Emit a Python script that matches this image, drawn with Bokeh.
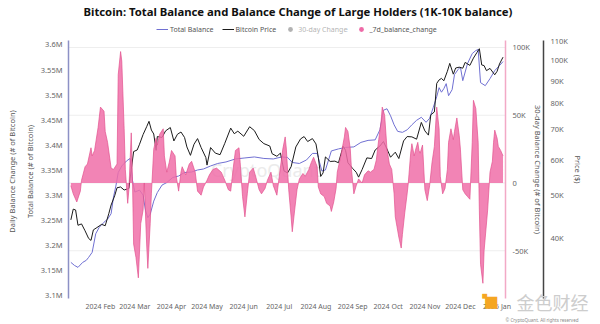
import pandas as pd
from bokeh.plotting import figure
from bokeh.models import (Range1d, LinearAxis, LogAxis, LogScale, FixedTicker, Legend, LegendItem,
                          Label, MonthsTicker, DatetimeTickFormatter, ColumnDataSource)
from bokeh.embed import file_html
from bokeh.resources import INLINE

# ---------------- data ----------------
bal_dates = ["2024-01-07", "2024-01-10", "2024-01-13", "2024-01-17", "2024-01-20", "2024-01-22", "2024-01-25",
             "2024-01-28", "2024-01-31", "2024-02-04", "2024-02-07", "2024-02-10", "2024-02-12", "2024-02-14",
             "2024-02-16", "2024-02-19", "2024-02-23", "2024-02-26", "2024-02-28", "2024-03-01", "2024-03-05",
             "2024-03-08", "2024-03-10", "2024-03-12", "2024-03-14", "2024-03-17", "2024-03-20", "2024-03-24",
             "2024-03-28", "2024-04-02", "2024-04-07", "2024-04-12", "2024-04-18", "2024-04-23", "2024-04-28",
             "2024-05-04", "2024-05-10", "2024-05-17", "2024-05-25", "2024-06-02", "2024-06-10", "2024-06-18",
             "2024-06-26", "2024-07-03", "2024-07-08", "2024-07-12", "2024-07-18", "2024-07-24", "2024-07-29",
             "2024-08-02", "2024-08-06", "2024-08-09", "2024-08-14", "2024-08-20", "2024-08-26", "2024-09-02",
             "2024-09-08", "2024-09-14", "2024-09-20", "2024-09-24", "2024-09-27", "2024-09-30", "2024-10-03",
             "2024-10-06", "2024-10-09", "2024-10-13", "2024-10-17", "2024-10-21", "2024-10-25", "2024-10-29",
             "2024-11-02", "2024-11-05", "2024-11-08", "2024-11-11", "2024-11-13", "2024-11-15", "2024-11-17",
             "2024-11-19", "2024-11-21", "2024-11-24", "2024-11-26", "2024-11-29", "2024-12-01", "2024-12-03",
             "2024-12-07", "2024-12-11", "2024-12-14", "2024-12-16", "2024-12-18", "2024-12-22", "2024-12-26",
             "2024-12-30", "2025-01-03", "2025-01-06"]
bal_values = [3166000, 3160000, 3156000, 3166000, 3170000, 3176000, 3186000,
              3223000, 3236000, 3246000, 3252000, 3263000, 3296000, 3318000,
              3345000, 3358000, 3368000, 3373000, 3330000, 3306000, 3310000,
              3300000, 3270000, 3255000, 3262000, 3288000, 3305000, 3320000,
              3325000, 3335000, 3338000, 3345000, 3346000, 3350000, 3352000,
              3358000, 3363000, 3366000, 3372000, 3374000, 3376000, 3373000,
              3372000, 3376000, 3375000, 3365000, 3363000, 3370000, 3383000,
              3383000, 3348000, 3350000, 3388000, 3392000, 3395000, 3396000,
              3405000, 3409000, 3410000, 3430000, 3469000, 3472000, 3458000,
              3440000, 3427000, 3425000, 3430000, 3440000, 3449000, 3455000,
              3445000, 3453000, 3474000, 3496000, 3514000, 3505000, 3512000,
              3522000, 3498000, 3510000, 3540000, 3550000, 3555000, 3528000,
              3562000, 3582000, 3588000, 3590000, 3524000, 3518000, 3532000,
              3548000, 3558000, 3566000]

price_dates = ["2024-01-07", "2024-01-09", "2024-01-11", "2024-01-13", "2024-01-16", "2024-01-19", "2024-01-22",
               "2024-01-24", "2024-01-26", "2024-01-29", "2024-02-02", "2024-02-05", "2024-02-08", "2024-02-10",
               "2024-02-13", "2024-02-15", "2024-02-18", "2024-02-21", "2024-02-25", "2024-02-27", "2024-02-29",
               "2024-03-03", "2024-03-05", "2024-03-08", "2024-03-11", "2024-03-13", "2024-03-15", "2024-03-17",
               "2024-03-19", "2024-03-20", "2024-03-24", "2024-03-27", "2024-03-31", "2024-04-03", "2024-04-06",
               "2024-04-09", "2024-04-12", "2024-04-14", "2024-04-17", "2024-04-20", "2024-04-23", "2024-04-26",
               "2024-04-30", "2024-05-01", "2024-05-04", "2024-05-08", "2024-05-12", "2024-05-16", "2024-05-21",
               "2024-05-24", "2024-05-27", "2024-06-01", "2024-06-06", "2024-06-10", "2024-06-14", "2024-06-18",
               "2024-06-23", "2024-06-25", "2024-06-29", "2024-07-02", "2024-07-05", "2024-07-08", "2024-07-11",
               "2024-07-15", "2024-07-19", "2024-07-22", "2024-07-25", "2024-07-29", "2024-08-01", "2024-08-03",
               "2024-08-05", "2024-08-07", "2024-08-09", "2024-08-13", "2024-08-17", "2024-08-20", "2024-08-24",
               "2024-08-26", "2024-08-28", "2024-09-01", "2024-09-04", "2024-09-06", "2024-09-09", "2024-09-13",
               "2024-09-17", "2024-09-20", "2024-09-24", "2024-09-27", "2024-09-30", "2024-10-03", "2024-10-07",
               "2024-10-10", "2024-10-14", "2024-10-17", "2024-10-21", "2024-10-25", "2024-10-29", "2024-11-01",
               "2024-11-04", "2024-11-06", "2024-11-09", "2024-11-11", "2024-11-13", "2024-11-15", "2024-11-17",
               "2024-11-20", "2024-11-22", "2024-11-25", "2024-11-27", "2024-11-30", "2024-12-03", "2024-12-05",
               "2024-12-09", "2024-12-12", "2024-12-15", "2024-12-17", "2024-12-19", "2024-12-21", "2024-12-23",
               "2024-12-26", "2024-12-30", "2025-01-01", "2025-01-03", "2025-01-06"]
price_values = [44000, 46500, 46300, 42800, 43100, 41600, 40000,
                39600, 41800, 42300, 43000, 42700, 45400, 47500,
                49800, 51900, 52100, 51300, 51700, 57000, 62500,
                63000, 64900, 68200, 71000, 73000, 69800, 68400,
                62900, 67500, 67200, 69500, 70700, 66000, 68300,
                69100, 67200, 64000, 61300, 64900, 66800, 63800,
                60600, 58300, 63800, 62000, 61500, 65200, 70500,
                68500, 69400, 67600, 71000, 69600, 66500, 65100,
                64300, 61800, 61000, 62000, 56600, 56000, 57800,
                64000, 66700, 67500, 65800, 66800, 65000, 60700,
                55000, 56000, 60800, 59400, 59500, 59000, 64200,
                62900, 59000, 57300, 56200, 54800, 57000, 60500,
                60300, 63000, 64300, 65800, 63300, 60700, 62300,
                60300, 66000, 67500, 67400, 66600, 72600, 69500,
                68000, 75500, 76600, 88700, 90300, 91000, 89900,
                94400, 98300, 93000, 96000, 96400, 95900, 98800,
                97300, 101000, 104000, 106000, 97500, 97200, 94700,
                95800, 92700, 94400, 98000, 101500]

chg7_dates = ["2024-01-07", "2024-01-09", "2024-01-12", "2024-01-15", "2024-01-16", "2024-01-19", "2024-01-21",
              "2024-01-24", "2024-01-25", "2024-01-27", "2024-01-30", "2024-02-01", "2024-02-04", "2024-02-05",
              "2024-02-07", "2024-02-10", "2024-02-12", "2024-02-15", "2024-02-16", "2024-02-18", "2024-02-19",
              "2024-02-21", "2024-02-22", "2024-02-24", "2024-02-25", "2024-02-27", "2024-02-28", "2024-02-29",
              "2024-03-02", "2024-03-04", "2024-03-06", "2024-03-08", "2024-03-09", "2024-03-11", "2024-03-12",
              "2024-03-14", "2024-03-15", "2024-03-17", "2024-03-19", "2024-03-20", "2024-03-22", "2024-03-25",
              "2024-03-26", "2024-03-28", "2024-03-30", "2024-04-01", "2024-04-04", "2024-04-05", "2024-04-07",
              "2024-04-09", "2024-04-10", "2024-04-13", "2024-04-16", "2024-04-18", "2024-04-21", "2024-04-23",
              "2024-04-26", "2024-04-28", "2024-05-01", "2024-05-03", "2024-05-06", "2024-05-09", "2024-05-13",
              "2024-05-16", "2024-05-19", "2024-05-21", "2024-05-23", "2024-05-25", "2024-05-28", "2024-05-29",
              "2024-05-31", "2024-06-02", "2024-06-04", "2024-06-06", "2024-06-09", "2024-06-11", "2024-06-14",
              "2024-06-16", "2024-06-19", "2024-06-21", "2024-06-24", "2024-06-26", "2024-06-29", "2024-07-01",
              "2024-07-04", "2024-07-06", "2024-07-07", "2024-07-09", "2024-07-11", "2024-07-12", "2024-07-14",
              "2024-07-16", "2024-07-18", "2024-07-21", "2024-07-23", "2024-07-26", "2024-07-28", "2024-07-30",
              "2024-08-02", "2024-08-03", "2024-08-05", "2024-08-08", "2024-08-10", "2024-08-13", "2024-08-14",
              "2024-08-16", "2024-08-18", "2024-08-19", "2024-08-22", "2024-08-25", "2024-08-26", "2024-08-28",
              "2024-08-30", "2024-08-31", "2024-09-02", "2024-09-04", "2024-09-06", "2024-09-09", "2024-09-11",
              "2024-09-14", "2024-09-16", "2024-09-19", "2024-09-21", "2024-09-23", "2024-09-25", "2024-09-26",
              "2024-09-28", "2024-09-30", "2024-10-02", "2024-10-04", "2024-10-06", "2024-10-07", "2024-10-10",
              "2024-10-12", "2024-10-13", "2024-10-15", "2024-10-17", "2024-10-18", "2024-10-20", "2024-10-21",
              "2024-10-23", "2024-10-24", "2024-10-26", "2024-10-27", "2024-10-28", "2024-10-30", "2024-11-01",
              "2024-11-03", "2024-11-05", "2024-11-07", "2024-11-09", "2024-11-11", "2024-11-13", "2024-11-14",
              "2024-11-16", "2024-11-18", "2024-11-20", "2024-11-21", "2024-11-23", "2024-11-25", "2024-11-26",
              "2024-11-28", "2024-11-30", "2024-12-01", "2024-12-03", "2024-12-05", "2024-12-07", "2024-12-09",
              "2024-12-11", "2024-12-12", "2024-12-14", "2024-12-16", "2024-12-17", "2024-12-18", "2024-12-20",
              "2024-12-21", "2024-12-22", "2024-12-24", "2024-12-26", "2024-12-28", "2024-12-29", "2024-12-30",
              "2025-01-01", "2025-01-02", "2025-01-04", "2025-01-06"]
chg7_values = [-2000, -8000, -14000, -6000, 2000, 12000, 14000,
               26000, 20000, 24000, 41000, 56000, 53000, 38000,
               30000, 11000, 10000, 14000, 80000, 97000, 90000,
               40000, 10000, -15000, -5000, 37000, 5000, -45000,
               -55000, -70000, -30000, -20000, 0, -45000, -63000,
               -30000, -8000, 25000, 33000, 28000, 36000, 40000,
               20000, 8000, 15000, 24000, 20000, 5000, -6000,
               8000, 12000, 6000, 14000, 16000, 8000, -6000,
               -9000, -3000, 2000, 6000, 10000, 11000, 8000,
               2000, -5000, -6000, 10000, 24000, 26000, 15000,
               -10000, -25000, -8000, 8000, 11000, 5000, -5000,
               -8000, -4000, 2000, 8000, -2000, -9000, 5000,
               25000, 34000, 25000, -5000, -25000, -36000, -20000,
               -5000, 3000, 7000, 5000, 10000, 15000, 19000,
               12000, -3000, -8000, -10000, -15000, -17000, -21000,
               -14000, -4000, 8000, 20000, 34000, 41000, 38000,
               25000, 10000, -8000, -2000, 3000, 0, 6000,
               9000, 8000, 10000, 17000, 32000, 45000, 56000,
               50000, 25000, 14000, 10000, -8000, -25000, -40000,
               -48000, -38000, -22000, -8000, 0, 22000, 29000,
               20000, 24000, 30000, 24000, 22000, 28000, -5000,
               -13000, -2000, 15000, 27000, 56000, 40000, 5000,
               -8000, -4000, 10000, 30000, 40000, 32000, 38000,
               48000, 35000, 25000, -5000, -8000, -10000, -12000,
               30000, 61000, 55000, 30000, -20000, -60000, -74000,
               -50000, -40000, -20000, 8000, 16000, 30000, 39000,
               33000, 27000, 24000, 20000]

left_ticks = [3100000, 3150000, 3200000, 3250000, 3300000, 3350000, 3400000, 3450000, 3500000, 3550000, 3600000]
left_labels = ["3.1M", "3.15M", "3.2M", "3.25M", "3.3M", "3.35M", "3.4M", "3.45M", "3.5M", "3.55M", "3.6M"]
chg_ticks = [-50000, 0, 50000, 100000]
chg_labels = ["-50K", "0", "50K", "100K"]
price_ticks = [40000, 50000, 60000, 70000, 80000, 90000, 100000, 110000]
price_labels = ["40K", "50K", "60K", "70K", "80K", "90K", "100K", "110K"]

# ---------------- layout positions ----------------
def ms(ts):
    return pd.Timestamp(ts).value / 1e6

X_START = "2024-01-05"
X_END = "2025-03-29 07:40"          # frame runs to the right edge of the canvas
PLOT_END = "2025-01-08"             # end of the plotted period
CHG_AXIS_AT = "2025-01-08 02:10"    # x position of the 30-day change axis
PRICE_AXIS_AT = "2025-02-09 04:20"  # x position of the price axis

FONT = "Noto Sans"
TICK_COLOR = "#666666"

p = figure(width=600, height=324, x_axis_type="datetime", output_backend="svg", toolbar_location=None,
           x_range=Range1d(pd.Timestamp(X_START), pd.Timestamp(X_END)),
           y_range=Range1d(3042230, 3651790),
           min_border_left=68, min_border_right=0, min_border_top=18, min_border_bottom=0)
p.extra_y_ranges = {"chg": Range1d(-104430, 121400), "price": Range1d(25710, 123790)}
p.extra_y_scales = {"price": LogScale()}
p.outline_line_color = None
p.xgrid.visible = False
p.ygrid.visible = False

p.title.text = "Bitcoin: Total Balance and Balance Change of Large Holders (1K-10K balance)"
p.title.align = "left"
p.title.offset = 15
p.title.text_font = FONT
p.title.text_font_size = "11.3px"
p.title.text_font_style = "bold"
p.title.text_color = "#111111"
p.title.standoff = 0

def style_axis(ax, line_color, size="7.5px"):
    ax.axis_line_color = line_color
    ax.axis_line_width = 1.5
    ax.major_tick_line_color = None
    ax.minor_tick_line_color = None
    ax.major_tick_out = 0
    ax.major_tick_in = 0
    ax.minor_tick_out = 0
    ax.minor_tick_in = 0
    ax.major_label_text_font = FONT
    ax.major_label_text_font_size = size
    ax.major_label_text_color = TICK_COLOR
    ax.axis_label_text_font = FONT
    ax.axis_label_text_font_size = "7.5px"
    ax.axis_label_text_font_style = "normal"
    ax.axis_label_text_color = "#555555"

# faint horizontal grid on the 30-day change scale (plot period only)
p.segment(x0=[pd.Timestamp(X_START)] * len(chg_ticks), x1=[pd.Timestamp(PLOT_END)] * len(chg_ticks),
          y0=chg_ticks, y1=chg_ticks, y_range_name="chg", line_color="#eeeeee", line_width=1, level="underlay")

# faint CryptoQuant watermark
p.add_layout(Label(x=197, y=155, x_units="screen", y_units="screen", text="CryptoQuant",
                   text_font=FONT, text_font_size="18px", text_color="#ebebeb",
                   text_align="center", text_baseline="middle", level="underlay"))

# left axis (total balance)
yax = p.yaxis[0]
yax.ticker = FixedTicker(ticks=left_ticks)
yax.major_label_overrides = dict(zip(left_ticks, left_labels))
yax.axis_label = "Total Balance (# of Bitcoin)"
style_axis(yax, "#8d91c6")
yax.major_label_standoff = 6
yax.axis_label_standoff = 3
yax.bounds = (3094000, 3608000)

# second left title
yax2 = LinearAxis(ticker=FixedTicker(ticks=[]), axis_label="Daily Balance Change (# of Bitcoin)")
style_axis(yax2, None)
yax2.major_label_standoff = 0
yax2.axis_label_standoff = 5
p.add_layout(yax2, "left")

# right axes, drawn at fixed positions
ax_chg = LinearAxis(y_range_name="chg", ticker=FixedTicker(ticks=chg_ticks),
                    axis_label="30-day Balance Change (# of Bitcoin)")
ax_chg.major_label_overrides = dict(zip(chg_ticks, chg_labels))
style_axis(ax_chg, "#f2a9c6")
ax_chg.major_label_standoff = 7
ax_chg.axis_label_standoff = 0
ax_chg.bounds = (-85200, 105200)
ax_chg.fixed_location = ms(CHG_AXIS_AT)
p.add_layout(ax_chg, "right")

ax_price = LogAxis(y_range_name="price", ticker=FixedTicker(ticks=price_ticks), axis_label="Price ($)")
ax_price.major_label_overrides = dict(zip(price_ticks, price_labels))
style_axis(ax_price, "#444444")
ax_price.major_label_standoff = 7
ax_price.axis_label_standoff = 2
ax_price.bounds = (29400, 110600)
ax_price.fixed_location = ms(PRICE_AXIS_AT)
p.add_layout(ax_price, "right")

# x axis, drawn at the bottom of the balance scale
xax = p.xaxis[0]
xax.ticker = MonthsTicker(months=list(range(12)))
xax.formatter = DatetimeTickFormatter(months="%Y %b", days="%Y %b")
style_axis(xax, None, size="7px")
xax.major_label_standoff = 3
xax.fixed_location = 3094000
xax.bounds = (ms(X_START), ms(PLOT_END))

# ---------------- renderers ----------------
src_bal = ColumnDataSource(dict(x=pd.to_datetime(bal_dates), y=bal_values))
src_price = ColumnDataSource(dict(x=pd.to_datetime(price_dates), y=price_values))
src_chg = ColumnDataSource(dict(x=pd.to_datetime(chg7_dates), y=chg7_values))

r_bal = p.line("x", "y", source=src_bal, line_color="#7070d2", line_width=1)
r_price = p.line("x", "y", source=src_price, y_range_name="price", line_color="#1b1b1b", line_width=1)
r_area = p.varea(x="x", y1=0, y2="y", source=src_chg, y_range_name="chg",
                 fill_color="#f06ea8", fill_alpha=0.85)
p.line("x", "y", source=src_chg, y_range_name="chg", line_color="#e2528e", line_width=0.7)

# legend markers (hidden 30-day series; zero-size markers on the 7d series)
r_30 = p.scatter("x", "y", source=src_chg, y_range_name="chg", marker="circle", size=0,
                 fill_color="#555555", line_color=None)
r_30.visible = False
r_7 = p.scatter("x", "y", source=src_chg, y_range_name="chg", marker="circle", size=0,
                fill_color="#ee6aa7", line_color=None)

legend = Legend(items=[LegendItem(label="Total Balance", renderers=[r_bal]),
                       LegendItem(label="Bitcoin Price", renderers=[r_price]),
                       LegendItem(label="30-day Change", renderers=[r_30]),
                       LegendItem(label="_7d_balance_change", renderers=[r_7])],
                orientation="horizontal", location=(88, 287), click_policy="hide")
legend.label_text_font = FONT
legend.label_text_font_size = "7px"
legend.label_text_color = "#555555"
legend.glyph_width = 12
legend.glyph_height = 16
legend.label_height = 10
legend.label_standoff = 2
legend.spacing = 8
legend.padding = 2
legend.margin = 0
legend.border_line_color = None
legend.background_fill_alpha = 0
legend.inactive_fill_alpha = 0.55
p.add_layout(legend)

# publisher watermark, bottom right
p.add_layout(Label(x=413, y=23, x_units="screen", y_units="screen", text="■",
                   text_font=FONT, text_font_size="10px", text_color="#f5a623"))
p.add_layout(Label(x=415, y=8, x_units="screen", y_units="screen", text="■",
                   text_font=FONT, text_font_size="25px", text_color="#f5a623"))
p.add_layout(Label(x=448, y=10, x_units="screen", y_units="screen", text="金色财经",
                   text_font="Noto Sans CJK SC", text_font_size="18px", text_color="#cdcdcd"))
p.add_layout(Label(x=437, y=2, x_units="screen", y_units="screen", text="© CryptoQuant. All rights reserved",
                   text_font=FONT, text_font_size="4.5px", text_color="#8a8a8a"))

open("out.html", "w").write(file_html(p, INLINE))
